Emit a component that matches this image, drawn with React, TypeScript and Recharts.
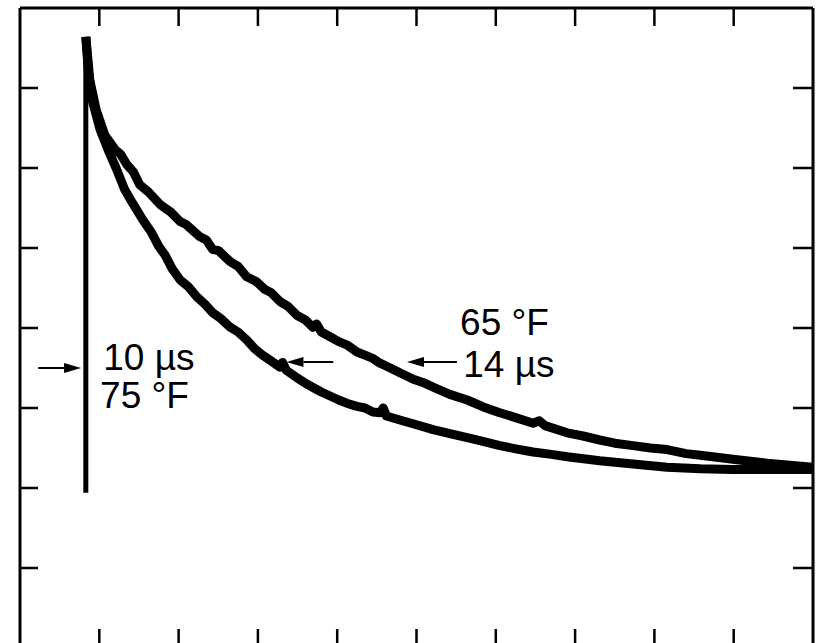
import { LineChart, Line, XAxis, YAxis, ReferenceLine, ReferenceDot } from 'recharts'

// x in horizontal divisions (0-10), y in vertical divisions (0-8)
const xTicks = [1, 2, 3, 4, 5, 6, 7, 8, 9]
const yTicks = [1, 2, 3, 4, 5, 6, 7]

// trigger edge
const trigger = [
  { x: 0.83, y: 1.94 },
  { x: 0.83, y: 7.64 },
]

// 65 °F trace, 14 µs
const trace65 = [
  { x: 0.83, y: 7.64 }, { x: 0.88, y: 7.1 }, { x: 0.96, y: 6.73 }, { x: 1.07, y: 6.41 },
  { x: 1.2, y: 6.23 }, { x: 1.27, y: 6.17 }, { x: 1.35, y: 6.04 }, { x: 1.43, y: 5.95 },
  { x: 1.51, y: 5.79 }, { x: 1.62, y: 5.7 }, { x: 1.77, y: 5.54 }, { x: 1.9, y: 5.45 },
  { x: 2.02, y: 5.33 }, { x: 2.1, y: 5.29 }, { x: 2.27, y: 5.14 }, { x: 2.35, y: 5.1 },
  { x: 2.43, y: 4.98 }, { x: 2.5, y: 4.97 }, { x: 2.65, y: 4.83 }, { x: 2.75, y: 4.77 },
  { x: 2.86, y: 4.64 }, { x: 2.98, y: 4.58 }, { x: 3.09, y: 4.48 }, { x: 3.17, y: 4.44 },
  { x: 3.28, y: 4.33 }, { x: 3.38, y: 4.27 }, { x: 3.49, y: 4.16 }, { x: 3.6, y: 4.1 },
  { x: 3.69, y: 4.01 }, { x: 3.74, y: 4.05 }, { x: 3.8, y: 3.95 }, { x: 3.91, y: 3.89 },
  { x: 4.02, y: 3.83 }, { x: 4.12, y: 3.79 }, { x: 4.25, y: 3.7 }, { x: 4.35, y: 3.66 },
  { x: 4.45, y: 3.62 }, { x: 4.54, y: 3.56 }, { x: 4.67, y: 3.5 }, { x: 4.79, y: 3.44 },
  { x: 4.96, y: 3.36 }, { x: 5.08, y: 3.32 }, { x: 5.21, y: 3.26 }, { x: 5.42, y: 3.17 },
  { x: 5.64, y: 3.1 }, { x: 5.85, y: 3.01 }, { x: 6.05, y: 2.94 }, { x: 6.25, y: 2.88 },
  { x: 6.47, y: 2.81 }, { x: 6.55, y: 2.84 }, { x: 6.62, y: 2.78 }, { x: 6.9, y: 2.69 },
  { x: 7.1, y: 2.65 }, { x: 7.31, y: 2.6 }, { x: 7.5, y: 2.56 }, { x: 7.73, y: 2.53 },
  { x: 7.95, y: 2.5 }, { x: 8.16, y: 2.48 }, { x: 8.4, y: 2.43 }, { x: 8.58, y: 2.41 },
  { x: 8.99, y: 2.36 }, { x: 9.42, y: 2.31 }, { x: 10.0, y: 2.26 },
]

// 75 °F trace, 10 µs
const trace75 = [
  { x: 0.83, y: 7.64 }, { x: 0.86, y: 7.23 }, { x: 0.91, y: 6.85 }, { x: 1.01, y: 6.48 },
  { x: 1.11, y: 6.23 }, { x: 1.22, y: 5.98 }, { x: 1.32, y: 5.73 }, { x: 1.42, y: 5.56 },
  { x: 1.55, y: 5.35 }, { x: 1.66, y: 5.19 }, { x: 1.75, y: 5.02 }, { x: 1.83, y: 4.91 },
  { x: 1.92, y: 4.74 }, { x: 2.02, y: 4.6 }, { x: 2.12, y: 4.52 }, { x: 2.23, y: 4.39 },
  { x: 2.33, y: 4.3 }, { x: 2.43, y: 4.19 }, { x: 2.53, y: 4.12 }, { x: 2.65, y: 4.01 },
  { x: 2.75, y: 3.95 }, { x: 2.86, y: 3.85 }, { x: 2.96, y: 3.74 }, { x: 3.06, y: 3.66 },
  { x: 3.15, y: 3.6 }, { x: 3.28, y: 3.51 }, { x: 3.31, y: 3.57 }, { x: 3.36, y: 3.47 },
  { x: 3.49, y: 3.38 }, { x: 3.6, y: 3.31 }, { x: 3.69, y: 3.26 }, { x: 3.8, y: 3.2 },
  { x: 3.91, y: 3.15 }, { x: 4.02, y: 3.1 }, { x: 4.12, y: 3.06 }, { x: 4.25, y: 3.02 },
  { x: 4.35, y: 3.0 }, { x: 4.45, y: 2.95 }, { x: 4.54, y: 2.94 }, { x: 4.58, y: 3.0 },
  { x: 4.62, y: 2.9 }, { x: 4.79, y: 2.85 }, { x: 5.0, y: 2.79 }, { x: 5.21, y: 2.73 },
  { x: 5.42, y: 2.68 }, { x: 5.64, y: 2.63 }, { x: 5.85, y: 2.58 }, { x: 6.05, y: 2.53 },
  { x: 6.25, y: 2.49 }, { x: 6.47, y: 2.45 }, { x: 6.7, y: 2.42 }, { x: 6.9, y: 2.39 },
  { x: 7.31, y: 2.34 }, { x: 7.73, y: 2.3 }, { x: 8.16, y: 2.26 }, { x: 8.58, y: 2.24 },
  { x: 8.99, y: 2.23 }, { x: 9.42, y: 2.23 }, { x: 10.0, y: 2.23 },
]

const labels = [
  { x: 1.05, y: 3.475, text: '10 µs' },
  { x: 1.01, y: 3.0, text: '75 °F' },
  { x: 5.55, y: 3.91, text: '65 °F' },
  { x: 5.59, y: 3.39, text: '14 µs' },
]

const arrows = [
  { from: { x: 0.23, y: 3.5 }, to: { x: 0.77, y: 3.5 } },
  { from: { x: 3.95, y: 3.575 }, to: { x: 3.36, y: 3.575 } },
  { from: { x: 5.51, y: 3.575 }, to: { x: 4.88, y: 3.575 } },
]

const Arrow = (props: any) => {
  const { x1, y1, x2, y2 } = props
  const dx = x2 - x1
  const dy = y2 - y1
  const len = Math.hypot(dx, dy) || 1
  const ux = dx / len
  const uy = dy / len
  const hl = 17
  const hw = 5
  const bx = x2 - ux * hl
  const by = y2 - uy * hl
  return (
    <g>
      <line x1={x1} y1={y1} x2={bx} y2={by} stroke="#000" strokeWidth={2} />
      <polygon points={`${x2},${y2} ${bx - uy * hw},${by + ux * hw} ${bx + uy * hw},${by - ux * hw}`} fill="#000" />
    </g>
  )
}

const noLabel = () => <g />
const axisLine = { stroke: '#000', strokeWidth: 3 }
const tickLine = { stroke: '#000', strokeWidth: 2.5 }

export default function App() {
  return (
    <div style={{ position: 'fixed', left: 0, top: 0, width: 819, height: 643, overflow: 'hidden', background: '#fff' }}>
      <LineChart width={819} height={660} margin={{ top: 8, right: 6, bottom: 12, left: 20 }}>
        <XAxis xAxisId="b" type="number" dataKey="x" domain={[0, 10]} ticks={xTicks} orientation="bottom"
          mirror tick={noLabel} tickSize={19} axisLine={axisLine} tickLine={tickLine} allowDataOverflow />
        <XAxis xAxisId="t" type="number" dataKey="x" domain={[0, 10]} ticks={xTicks} orientation="top"
          mirror tick={noLabel} tickSize={18} axisLine={axisLine} tickLine={tickLine} allowDataOverflow />
        <YAxis yAxisId="l" type="number" dataKey="y" domain={[0, 8]} ticks={yTicks} orientation="left"
          mirror tick={noLabel} tickSize={18} axisLine={axisLine} tickLine={tickLine} allowDataOverflow />
        <YAxis yAxisId="r" type="number" dataKey="y" domain={[0, 8]} ticks={yTicks} orientation="right"
          mirror tick={noLabel} tickSize={20} axisLine={axisLine} tickLine={tickLine} allowDataOverflow />

        <Line xAxisId="b" yAxisId="l" data={trigger} dataKey="y" type="linear" stroke="#000"
          strokeWidth={5} dot={false} isAnimationActive={false} />
        <Line xAxisId="b" yAxisId="l" data={trace65} dataKey="y" type="linear" stroke="#000"
          strokeWidth={9} strokeLinejoin="round" dot={false} isAnimationActive={false} />
        <Line xAxisId="b" yAxisId="l" data={trace75} dataKey="y" type="linear" stroke="#000"
          strokeWidth={9} strokeLinejoin="round" dot={false} isAnimationActive={false} />

        {arrows.map((a, i) => (
          <ReferenceLine key={`a${i}`} xAxisId="b" yAxisId="l" segment={[a.from, a.to]} shape={Arrow} />
        ))}
        {labels.map((l, i) => (
          <ReferenceDot key={`l${i}`} xAxisId="b" yAxisId="l" x={l.x} y={l.y} r={0}
            shape={(p: any) => (
              <text x={p.cx} y={p.cy} fontFamily="'Liberation Sans', Arial, sans-serif" fontSize={37} fill="#000">
                {l.text}
              </text>
            )} />
        ))}
      </LineChart>
    </div>
  )
}
